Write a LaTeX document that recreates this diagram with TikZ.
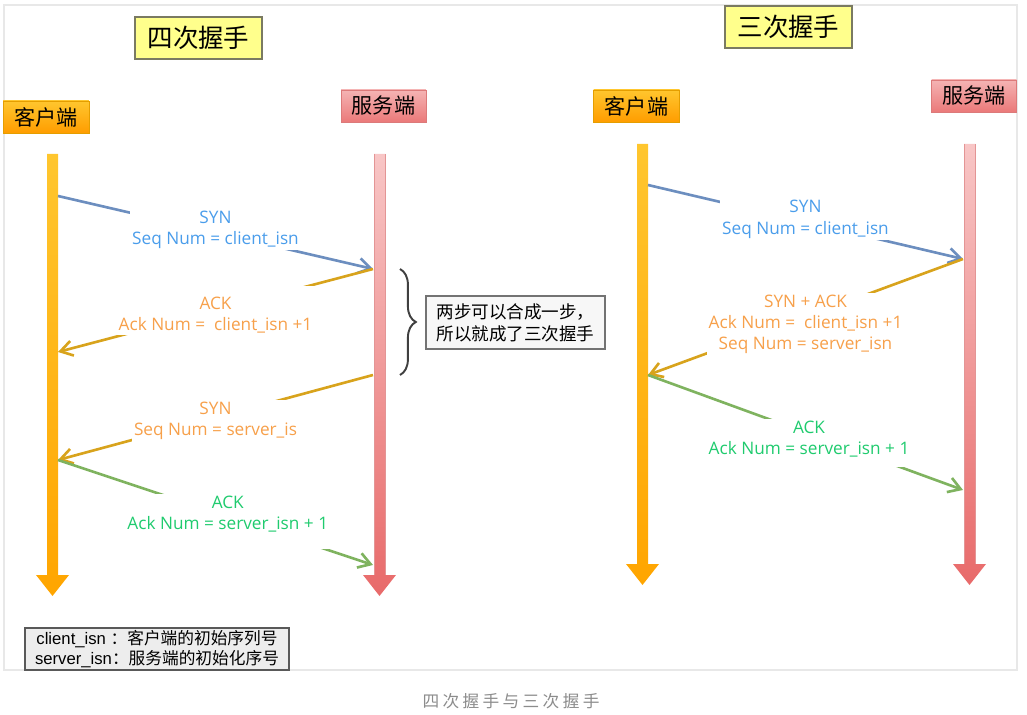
\documentclass[tikz,border=0pt]{standalone}
\usepackage{fontspec}
\usepackage{tikz}
\usetikzlibrary{arrows.meta, decorations.pathreplacing}
\setmainfont{Noto Sans CJK SC}
\newfontfamily\lblfont{Open Sans}
\newfontfamily\arialfont{Liberation Sans}
\newfontfamily\capfont[LetterSpace=20]{Noto Sans CJK SC}
\definecolor{titleyellow}{HTML}{FFFF8C}
\definecolor{titleedge}{HTML}{7A7A62}
\definecolor{cliorange}{HTML}{FFB000}
\definecolor{clitop}{HTML}{FFC62E}
\definecolor{clibot}{HTML}{FFA500}
\definecolor{srvtop}{HTML}{F8C6C6}
\definecolor{srvbot}{HTML}{E86A6A}
\definecolor{srvedge}{HTML}{DC7A7A}
\definecolor{lineblue}{HTML}{6C8EBF}
\definecolor{lineorange}{HTML}{D8A31C}
\definecolor{linegreen}{HTML}{7FB35F}
\definecolor{txtblue}{HTML}{4A9DEB}
\definecolor{txtorange}{HTML}{F7A04A}
\definecolor{txtgreen}{HTML}{1FCB6E}

\tikzset{
  titlebox/.style={draw=titleedge, fill=titleyellow, line width=0.9pt,
    minimum width=2.54cm, minimum height=0.84cm, font=\fontsize{14.5}{16}\selectfont},
  clibox/.style={draw=cliorange!90!black, top color=clitop, bottom color=clibot!95!red,
    minimum width=1.72cm, minimum height=0.64cm, font=\fontsize{12}{14}\selectfont},
  srvbox/.style={draw=srvedge, top color=srvtop!80!srvbot, bottom color=srvbot!90,
    minimum width=1.7cm, minimum height=0.64cm, font=\fontsize{12}{14}\selectfont},
  msg/.style={line width=1.5pt},
  msgtip/.style={msg, -{Straight Barb[length=2.4mm, width=3mm]}},
  msglabel/.style={fill=white, align=center, inner sep=1pt,
    font=\lblfont\fontsize{9.8}{12}\selectfont}
}

% x, top, tip, top colour, bottom colour
\newcommand{\lifeline}[5]{%
  \shade[top color=#4, bottom color=#5]
    (#1-5.5,#2) -- (#1+5.5,#2) -- (#1+5.5,#3-21) -- (#1+16.5,#3-21)
    -- (#1,#3) -- (#1-16.5,#3-21) -- (#1-5.5,#3-21) -- cycle;}

\begin{document}
\begin{tikzpicture}[x=0.02cm, y=-0.02cm]
  \useasboundingbox (0,0) rectangle (1027,715);
  \draw[black!9, line width=0.8pt] (4,5) rectangle (1017,670);

  % four-way handshake
  \node[titlebox] (title4) at (198.5,38) {四次握手};
  \node[clibox] (cli4) at (46,117) {客户端};
  \node[srvbox] (srv4) at (383.5,106) {服务端};
  \lifeline{52.5}{154}{596}{clitop}{clibot}
  \lifeline{379.5}{154}{596}{srvtop}{srvbot}
  \draw[srvedge!80, line width=0.4pt] (374,154) -- (374,575) (385,154) -- (385,575);

  \coordinate (c4a) at (58,196);
  \coordinate (s4a) at (373,269);
  \coordinate (c4b) at (58,352);
  \coordinate (s4b) at (373,375);
  \coordinate (c4c) at (58,460);
  \coordinate (s4c) at (373,565);

  \draw[msgtip, lineblue] (c4a) -- node[msglabel, text=txtblue, yshift=1.5pt]
    {SYN\\Seq Num = client\_isn} (s4a);
  \draw[msgtip, lineorange] (s4a) -- node[msglabel, text=txtorange, yshift=0pt]
    {\rule{0pt}{12pt}ACK\\Ack Num = \ client\_isn +1} (c4b);
  \draw[msgtip, lineorange] (s4b) -- node[msglabel, text=txtorange, yshift=-2pt]
    {SYN\\Seq Num = server\_is\hspace{5pt}} (c4c);
  \draw[msgtip, linegreen] (c4c) -- node[msglabel, text=txtgreen, xshift=7pt, yshift=-5pt]
    {ACK\\Ack Num = server\_isn + 1\rule[-10pt]{0pt}{0pt}} (s4c);

  \draw[black!75, line width=1.1pt, decorate, decoration={brace, amplitude=9pt}]
    (400,269) -- (400,375);
  \node[draw=black!55, fill=black!3, line width=0.8pt, minimum width=3.58cm,
    minimum height=1.06cm, align=left, font=\fontsize{10}{12.5}\selectfont]
    (note) at (515.5,322.5) {两步可以合成一步，\\所以就成了三次握手};

  % three-way handshake
  \node[titlebox] (title3) at (788.5,27) {三次握手};
  \node[clibox] (cli3) at (636.5,106) {客户端};
  \node[srvbox] (srv3) at (974,96) {服务端};
  \lifeline{642.5}{144}{585}{clitop}{clibot}
  \lifeline{969.5}{144}{585}{srvtop}{srvbot}
  \draw[srvedge!80, line width=0.4pt] (964,144) -- (964,564) (975,144) -- (975,564);

  \coordinate (c3a) at (648,185);
  \coordinate (s3a) at (963,259);
  \coordinate (c3b) at (648,375);
  \coordinate (s3b) at (963,490);

  \draw[msgtip, lineblue] (c3a) -- node[msglabel, text=txtblue, yshift=1.5pt]
    {SYN\\Seq Num = client\_isn} (s3a);
  \draw[msgtip, lineorange] (s3a) -- node[msglabel, text=txtorange, yshift=-4pt]
    {SYN + ACK\\Ack Num = \ client\_isn +1\\Seq Num = server\_isn} (c3b);
  \draw[msgtip, linegreen] (c3b) -- node[msglabel, text=txtgreen, xshift=2pt, yshift=-6pt]
    {ACK\\Ack Num = server\_isn + 1\rule[-6pt]{0pt}{0pt}} (s3b);

  % legend and caption
  \node[draw=black!65, fill=black!7, line width=0.8pt, minimum width=5.28cm,
    minimum height=0.84cm, align=center, inner sep=1pt, font=\fontsize{9.5}{11.5}\selectfont]
    (legend) at (157,649)
    {{\arialfont client\_isn }：客户端的初始序列号\\{\arialfont server\_isn}：服务端的初始化序号};
  \node[text=black!45, font=\capfont\fontsize{9.5}{11}\selectfont] (caption) at (511,701)
    {四次握手与三次握手};
\end{tikzpicture}
\end{document}
